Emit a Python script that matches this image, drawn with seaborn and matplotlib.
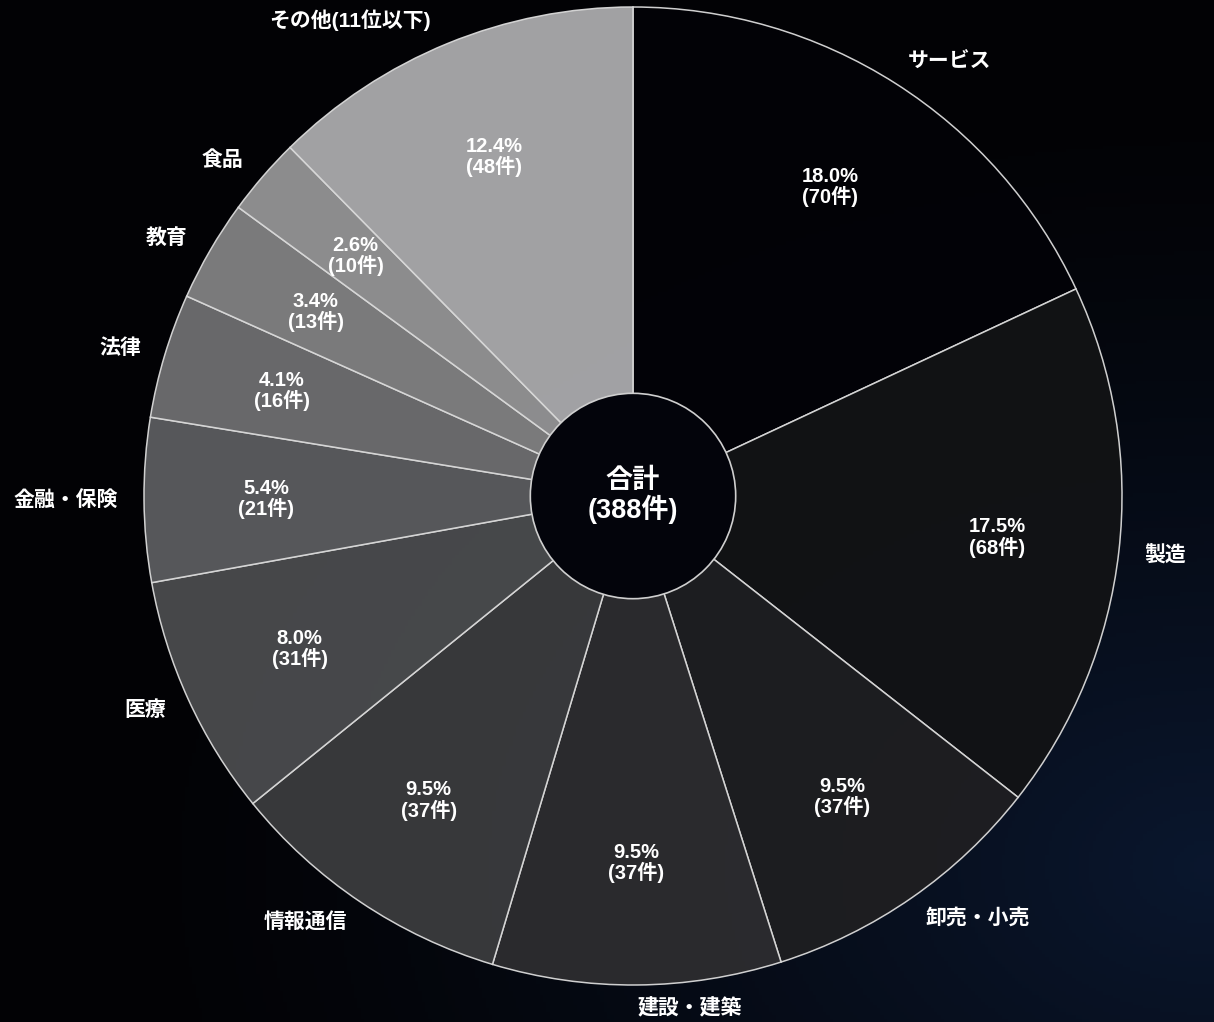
import numpy as np
import matplotlib
matplotlib.use("Agg")
import matplotlib.pyplot as plt
import seaborn as sns

# ---- data ----
categories = ["サービス", "製造", "卸売・小売", "建設・建築", "情報通信", "医療",
              "金融・保険", "法律", "教育", "食品", "その他(11位以下)"]
counts = [70, 68, 37, 37, 37, 31, 21, 16, 13, 10, 48]
total_label = "合計\n(388件)"
slice_colors = ["#020207", "#121315", "#1e1e21", "#2c2c2f", "#3a3b3d", "#4a4b4d",
                "#5a5b5e", "#6d6d6f", "#808081", "#939394", "#a9a9ab"]
# label anchor positions in figure pixels (x from left, y from top)
label_px = [(950, 62), (1165, 555), (978, 918), (690, 1008), (305, 922), (145, 710),
            (66, 500), (120, 348), (167, 238), (222, 160), (350, 20)]

sns.set_theme(style="dark")
plt.rcParams['font.family'] = ['Liberation Sans', 'Noto Sans CJK JP', 'DejaVu Sans']

W, H, DPI = 1214, 1022, 100
fig = plt.figure(figsize=(W / DPI, H / DPI), dpi=DPI, facecolor="black")

# background gradient (dark navy glow toward bottom-right)
bg = fig.add_axes([0, 0, 1, 1])
yy, xx = np.mgrid[0:1:300j, 0:1:360j]
d = np.sqrt(((xx - 1.0) / 0.9) ** 2 + ((yy - 0.15) / 0.75) ** 2)
glow = np.clip(1 - d, 0, 1) ** 1.3
img = np.zeros((300, 360, 3))
img[..., 0] = 0.01 + 0.03 * glow
img[..., 1] = 0.01 + 0.08 * glow
img[..., 2] = 0.02 + 0.16 * glow
bg.imshow(img, extent=[0, 1, 0, 1], origin="lower", aspect="auto")
bg.set_axis_off()

ax = fig.add_axes([0, 0, 1, 1])
ax.set_facecolor("none")
ax.patch.set_alpha(0)

tot = sum(counts)
def fmt(p):
    n = int(round(p * tot / 100.0))
    return f"{p:.1f}%\n({n}件)"

wedges, texts, autotexts = ax.pie(
    counts, labels=categories, colors=slice_colors, startangle=90,
    counterclock=False, radius=1.0, labeldistance=1.09, pctdistance=0.75,
    autopct=fmt, wedgeprops=dict(edgecolor="#d8d8d8", linewidth=1.1, alpha=0.96),
    textprops=dict(color="white", fontweight="bold"))

R_px = 489.0
cx, cy = 633.0, 496.0
ax.set_xlim(-cx / R_px, (W - cx) / R_px)
ax.set_ylim(-(H - cy) / R_px, cy / R_px)
ax.set_aspect("equal")
ax.set_axis_off()

for t, (px, py) in zip(texts, label_px):
    t.set_fontsize(15)
    t.set_ha("center")
    t.set_va("center")
    t.set_position(((px - cx) / R_px, (cy - py) / R_px))
for t in autotexts:
    t.set_fontsize(14.5)
    t.set_linespacing(1.0)

hole = plt.Circle((0, 0), 0.21, facecolor="#03040b", edgecolor="#cfcfcf",
                  linewidth=1.2, zorder=5)
ax.add_patch(hole)
ax.text(0, 0, total_label, ha="center", va="center", color="white",
        fontsize=19.5, fontweight="bold", linespacing=1.05, zorder=6)

fig.savefig("out.png", dpi=DPI, facecolor="black")
